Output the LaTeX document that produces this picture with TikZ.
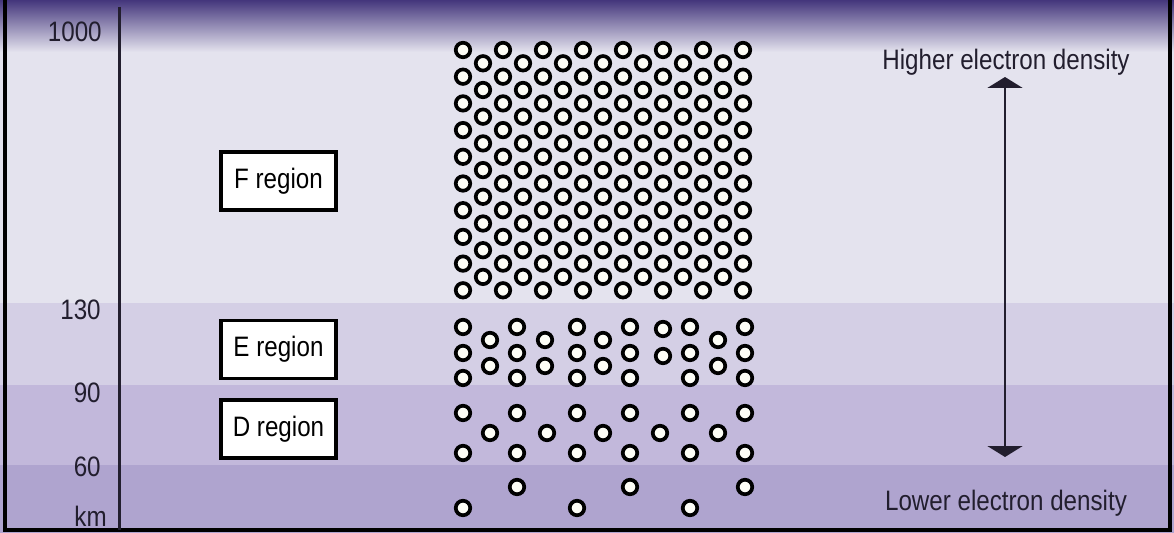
\documentclass[tikz,border=0pt]{standalone}
\usepackage{fontspec}
\setmainfont[FakeStretch=0.86]{Liberation Sans}
\usetikzlibrary{arrows.meta}
\definecolor{topdark}{HTML}{44367C}
\definecolor{topmid}{HTML}{8878B6}
\definecolor{bandF}{HTML}{E4E3EE}
\definecolor{bandE}{HTML}{D4CFE5}
\definecolor{bandD}{HTML}{C2B8DB}
\definecolor{bandlow}{HTML}{AFA4CF}
\definecolor{inkgrey}{HTML}{221E2E}
\definecolor{dotfill}{HTML}{FDFDF6}
\begin{document}
\begin{tikzpicture}[x=0.02cm,y=-0.02cm,font=\fontsize{16}{19}\selectfont,
  electron/.style={draw=black,line width=2.1pt,fill=dotfill},
  regionbox/.style={draw=black,line width=2.2pt,fill=white,minimum width=2.3cm,minimum height=1.16cm,inner sep=0pt},
  kmlabel/.style={anchor=east,text=inkgrey,inner sep=0pt},
  denslabel/.style={anchor=base,text=inkgrey,inner sep=0pt}]
\useasboundingbox (0,0) rectangle (1174,533);
% background layers
\fill[bandF] (0,50) rectangle (1174,303);
\fill[bandE] (0,303) rectangle (1174,385);
\fill[bandD] (0,385) rectangle (1174,465);
\fill[bandlow] (0,465) rectangle (1174,533);
\shade[top color=topdark,middle color=topmid,bottom color=bandF] (0,0) rectangle (1174,52);
\draw[line width=2pt] (5,0) -- (5,530) -- (1170,530) -- (1170,0);
\draw[inkgrey,line width=1.4pt] (119.5,7) -- (119.5,530);
% altitude labels
\node[kmlabel] (k1000) at (102,32) {1000};
\node[kmlabel] (k130) at (101,310) {130};
\node[kmlabel] (k90) at (101,393) {90};
\node[kmlabel] (k60) at (101,467) {60};
\node[kmlabel] (kkm) at (107,516) {km};
% regions
\node[regionbox] (Freg) at (278.5,181) {F region};
\node[regionbox] (Ereg) at (278.5,349.5) {E region};
\node[regionbox] (Dreg) at (278.5,429) {D region};
% F region electrons
\foreach \c in {0,...,7}
  \foreach \r in {0,...,9}
    \draw[electron] (463+40*\c,50+26.7*\r) circle[radius=0.145cm];
\foreach \c in {0,...,6}
  \foreach \r in {0,...,8}
    \draw[electron] (483+40*\c,63.3+26.7*\r) circle[radius=0.145cm];
% E region electrons
\foreach \x in {463,517,577,630,690,745}
  \foreach \y in {327,353,378}
    \draw[electron] (\x,\y) circle[radius=0.145cm];
\foreach \x in {490,545,603,718}
  \foreach \y in {340,366}
    \draw[electron] (\x,\y) circle[radius=0.145cm];
\foreach \y in {329,356}
  \draw[electron] (663,\y) circle[radius=0.145cm];
% D region and below
\foreach \x in {463,517,577,630,690,745}
  \foreach \y in {413,453}
    \draw[electron] (\x,\y) circle[radius=0.145cm];
\foreach \x in {490,547,603,660,718}
  \draw[electron] (\x,433) circle[radius=0.145cm];
\foreach \x in {517,630,745}
  \draw[electron] (\x,487) circle[radius=0.145cm];
\foreach \x in {463,577,690}
  \draw[electron] (\x,508) circle[radius=0.145cm];
% density scale
\node[denslabel] (hiden) at (1006,70) {Higher electron density};
\node[denslabel] (loden) at (1006,511) {Lower electron density};
\coordinate (hitip) at (1005,77);
\coordinate (lotip) at (1005,457);
\draw[inkgrey,line width=1.5pt,{Triangle[width=0.7cm,length=0.22cm]}-{Triangle[width=0.7cm,length=0.22cm]}] (lotip) -- (hitip);
\end{tikzpicture}
\end{document}
